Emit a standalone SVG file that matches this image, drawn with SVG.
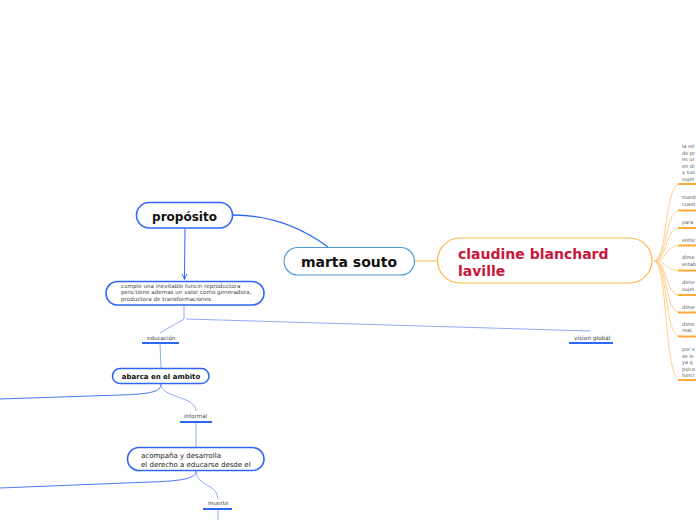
<svg xmlns="http://www.w3.org/2000/svg" width="696" height="520" viewBox="0 0 696 520">
<style>
text{font-family:"DejaVu Sans","Liberation Sans",sans-serif;}
.bn{fill:#fff;stroke:#2f66f6;stroke-width:1.6;}
.bt{font-weight:bold;fill:#111;}
.c{fill:none;stroke:#8eabf7;stroke-width:1;}
.ul{stroke:#2f66f6;stroke-width:2;}
.sm{font-size:5.6px;fill:#444;}
.of{fill:none;stroke:#ffcf8a;stroke-width:1;}
.ou{stroke:#ffa83a;stroke-width:2;}
.rt{font-size:5px;fill:#555;}
</style>
<defs>
<marker id="ah" viewBox="0 0 10 10" refX="9" refY="5" markerWidth="6" markerHeight="6" orient="auto">
<path d="M0,1 L10,5 L0,9" fill="none" stroke="#2f66f6" stroke-width="1.5"/>
</marker>
</defs>
<rect width="696" height="520" fill="#fff"/>
<g id="connectors">
<path d="M233,215 C275,215 305,230 328,247" fill="none" stroke="#2f66f6" stroke-width="1.3"/>
<path d="M415,261 L437,261" stroke="#ffb547" stroke-width="1"/>
<path d="M185,229 L184.5,279" stroke="#2f66f6" stroke-width="1" marker-end="url(#ah)"/>
<path d="M184,306 L184,319" class="c"/>
<path d="M184,319 C176,324 166,329 160,333" class="c"/>
<path d="M186,319 L590,331" class="c"/>
<path d="M160,343 L161,368" class="c"/>
<path d="M161,384 C161,392 150,394 120,395 L0,399" fill="none" stroke="#4a7cf2" stroke-width="1"/>
<path d="M161,384 C161,398 196,396 196,411" class="c"/>
<path d="M196,422 L196,447" class="c"/>
<path d="M196,471 C196,478 185,481 150,482 L0,488" fill="none" stroke="#4a7cf2" stroke-width="1"/>
<path d="M196,471 C196,486 218,484 218,499" class="c"/>
<path d="M218,509 L218,520" class="c"/>
<g id="fan">
<path d="M654,261 C668,261 664,184 680,184" class="of"/>
<path d="M654,261 C668,261 664,210.5 680,210.5" class="of"/>
<path d="M654,261 C668,261 664,228 680,228" class="of"/>
<path d="M654,261 C668,261 664,245.5 680,245.5" class="of"/>
<path d="M654,261 C668,261 664,270.5 680,270.5" class="of"/>
<path d="M654,261 C668,261 664,295 680,295" class="of"/>
<path d="M654,261 C668,261 664,312.5 680,312.5" class="of"/>
<path d="M654,261 C668,261 664,336.5 680,336.5" class="of"/>
<path d="M654,261 C668,261 664,380 680,380" class="of"/>
</g>
</g>
<g id="proposito">
<rect class="bn" x="136.5" y="202.5" width="96" height="25.5" rx="12.7"/>
<text class="bt" x="184.5" y="221" font-size="12" text-anchor="middle">propósito</text>
</g>
<g id="marta-souto">
<rect x="284" y="247.5" width="130.5" height="27.5" rx="13.7" fill="#fff" stroke="#4f9ad6" stroke-width="1.2"/>
<text class="bt" x="349" y="267" font-size="14" text-anchor="middle">marta souto</text>
</g>
<g id="claudine">
<rect x="437.5" y="238" width="214.5" height="45" rx="22.5" fill="#fff" stroke="#ffb547" stroke-width="1.2"/>
<text x="458" y="259" font-size="14" font-weight="bold" fill="#c8173a">claudine blanchard</text>
<text x="458" y="276" font-size="14" font-weight="bold" fill="#c8173a">laville</text>
</g>
<g id="cumple">
<rect class="bn" x="106" y="281.5" width="158" height="23.5" rx="11.7"/>
<text class="sm" x="121" y="288">cumple una inevitable funcin reproductora</text>
<text class="sm" x="121" y="294.3">pero tiene ademas un valor como generadora,</text>
<text class="sm" x="121" y="300.6">productora de transformaciones.</text>
</g>
<g id="educacion">
<text x="147" y="339.5" font-size="5.6" fill="#444">educación</text>
<line class="ul" x1="142" y1="343" x2="179" y2="343"/>
</g>
<g id="vision-global">
<text x="574" y="339.5" font-size="5.8" fill="#444">vision global</text>
<line class="ul" x1="569" y1="343" x2="613" y2="343"/>
</g>
<g id="abarca">
<rect class="bn" x="112.5" y="368.5" width="96.5" height="15" rx="7.5"/>
<text class="bt" x="161" y="378.5" font-size="7" text-anchor="middle">abarca en el ambito</text>
</g>
<g id="informal">
<text x="184" y="418" font-size="5.6" fill="#444">informal</text>
<line class="ul" x1="180" y1="422" x2="212" y2="422"/>
</g>
<g id="acompana">
<rect class="bn" x="127.5" y="447.5" width="136.5" height="23" rx="11.5"/>
<text x="141" y="457.5" font-size="7" fill="#222">acompaña y desarrolla</text>
<text x="141" y="466.5" font-size="7" fill="#222">el derecho a educarse desde el</text>
</g>
<g id="muerte">
<text x="208" y="505" font-size="5.6" fill="#444">muerte</text>
<line class="ul" x1="203" y1="509" x2="232" y2="509"/>
</g>
<g id="sub1">
<text class="rt" x="682" y="148">la rel</text>
<text class="rt" x="682" y="154.6">de pr</text>
<text class="rt" x="682" y="161.2">es ur</text>
<text class="rt" x="682" y="167.8">en di</text>
<text class="rt" x="682" y="174.4">y sus</text>
<text class="rt" x="682" y="181">sujet</text>
<line class="ou" x1="678" y1="184" x2="696" y2="184"/>
</g>
<g id="sub2">
<text class="rt" x="682" y="199">nuest</text>
<text class="rt" x="682" y="205.6">cuest</text>
<line class="ou" x1="678" y1="210.5" x2="696" y2="210.5"/>
</g>
<g id="sub3">
<text class="rt" x="682" y="224">para</text>
<line class="ou" x1="678" y1="228" x2="696" y2="228"/>
</g>
<g id="sub4">
<text class="rt" x="682" y="241.5">enfoc</text>
<line class="ou" x1="678" y1="245.5" x2="696" y2="245.5"/>
</g>
<g id="sub5">
<text class="rt" x="682" y="259">dime</text>
<text class="rt" x="682" y="265.6">estab</text>
<line class="ou" x1="678" y1="270.5" x2="696" y2="270.5"/>
</g>
<g id="sub6">
<text class="rt" x="682" y="284">dime</text>
<text class="rt" x="682" y="290.6">sujet</text>
<line class="ou" x1="678" y1="295" x2="696" y2="295"/>
</g>
<g id="sub7">
<text class="rt" x="682" y="308.5">dime</text>
<line class="ou" x1="678" y1="312.5" x2="696" y2="312.5"/>
</g>
<g id="sub8">
<text class="rt" x="682" y="325.5">dime</text>
<text class="rt" x="682" y="332">real.</text>
<line class="ou" x1="678" y1="336.5" x2="696" y2="336.5"/>
</g>
<g id="sub9">
<text class="rt" x="682" y="351">por s</text>
<text class="rt" x="682" y="357.5">se le</text>
<text class="rt" x="682" y="364">ya q</text>
<text class="rt" x="682" y="370.5">psico</text>
<text class="rt" x="682" y="377">funci</text>
<line class="ou" x1="678" y1="380" x2="696" y2="380"/>
</g>
</svg>
